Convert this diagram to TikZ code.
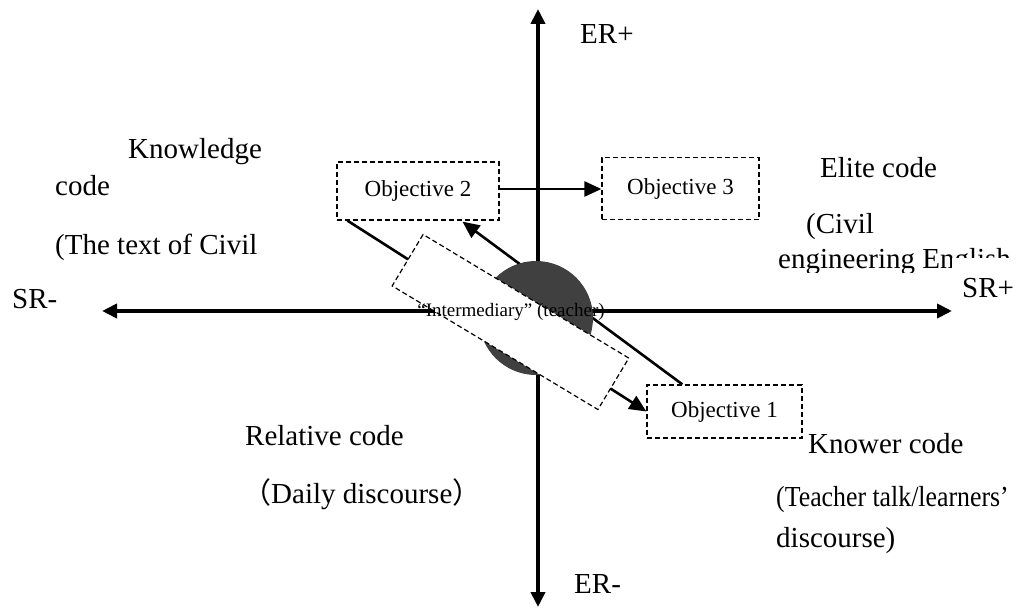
\documentclass[tikz,border=0pt]{standalone}
\usepackage{fontspec}
\setmainfont{Liberation Serif}
\newfontfamily\cjkfont{Noto Sans CJK SC}
\usetikzlibrary{arrows.meta,calc}
\definecolor{disk}{HTML}{404040}
\begin{document}
\begin{tikzpicture}[x=1pt,y=-1pt,
  axis/.style={line width=3.8pt,-{Triangle[length=15pt,width=14pt]}},
  link/.style={line width=2.6pt,-{Triangle[length=17pt,width=15pt]}},
  objbox/.style={draw,dashed,dash pattern=on 5pt off 3pt,line width=1.2pt,fill=white,
    inner sep=0pt,font=\fontsize{23}{26}\selectfont},
  lbl/.style={anchor=base west,inner sep=0pt,font=\fontsize{29}{33}\selectfont},
  midbox/.style={draw,dashed,dash pattern=on 5pt off 3pt,line width=1.2pt,fill=white,
    minimum width=240pt,minimum height=60pt,rotate=-31},
  midtext/.style={inner sep=0pt,font=\fontsize{19}{22}\selectfont}]
\useasboundingbox (0,0) rectangle (1023,610);
% axes
\coordinate (top) at (538,9);
\coordinate (bot) at (538,607);
\coordinate (lft) at (102,311);
\coordinate (rgt) at (952,311);
\coordinate (ctr) at (538,311);
\draw[axis] (ctr) -- (top);
\draw[axis] (ctr) -- (bot);
\draw[axis] (ctr) -- (lft);
\draw[axis] (ctr) -- (rgt);
% objective boxes
\node[objbox,minimum width=162pt,minimum height=58pt] (o2) at (418,191) {Objective 2};
\node[objbox,minimum width=157pt,minimum height=62pt] (o3) at (680.5,188.5) {Objective 3};
\node[objbox,minimum width=155pt,minimum height=53pt] (o1) at (724.5,411.5) {Objective 1};
% connectors
\draw[link] (o2.east |- 0,189) -- (o3.west |- 0,189);
\coordinate (o2a) at ($(o2.south west)+(11,0)$);
\coordinate (o1a) at (o1.west);
\draw[link] (o2a) -- (o1a);
\coordinate (o1b) at ($(o1.north west)+(36,0)$);
\coordinate (o2b) at ($(o2.south west)+(126,1)$);
\draw[link] (o1b) -- (o2b);
% disk and intermediary box
\fill[disk] (536,318) circle[radius=57pt];
\node[midbox] (mid) at (510.5,322) {};
\node[midtext] (midt) at (511,312) {“Intermediary” (teacher)};
% labels
\node[lbl] (erp) at (580,44) {ER+};
\node[lbl] (erm) at (574,593) {ER-};
\node[lbl] (srm) at (12,308) {SR-};
\node[lbl] (srp) at (962,297) {SR+};
\node[lbl] (kn1) at (128,158) {Knowledge};
\node[lbl] (kn2) at (55,195) {code};
\node[lbl] (kn3) at (55,254) {(The text of Civil};
\node[lbl] (el1) at (820,177) {Elite code};
\node[lbl] (el2) at (806,233) {(Civil};
\begin{scope}
\clip (770,236) -- (1023,236) -- (1023,257) -- (951,257) -- (951,272) -- (770,272) -- cycle;
\node[lbl] (el3) at (778,268) {engineering English};
\end{scope}
\node[lbl] (re1) at (245,445) {Relative code};
\node[lbl] (re2) at (242,503) {{\cjkfont （}Daily discourse{\cjkfont ）}};
\node[lbl] (kw1) at (808,453) {Knower code};
\node[lbl] (kw2) at (776,506) {\scalebox{0.89}[1]{(Teacher talk/learners’}};
\node[lbl] (kw3) at (776,547) {discourse)};
\end{tikzpicture}
\end{document}
